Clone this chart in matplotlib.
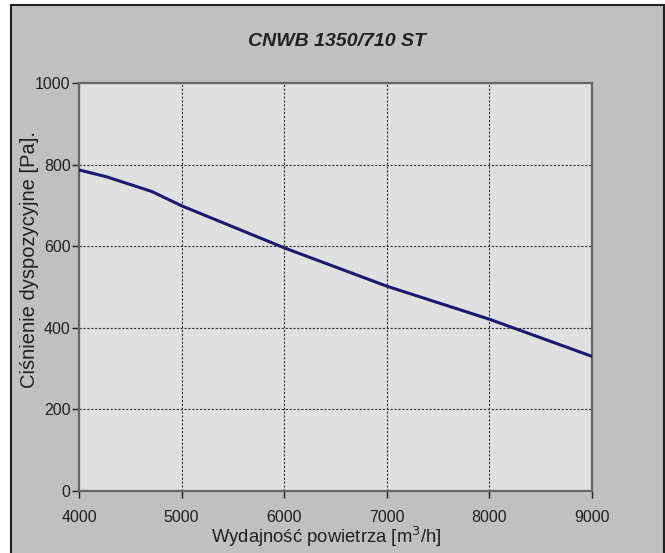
import numpy as np
import matplotlib.pyplot as plt
from matplotlib.patches import Rectangle

# Characteristic of CNWB 1350/710 ST
flow = [4000, 4270, 4710, 5000, 6000, 7000, 8000, 9000]
pressure = [787, 770, 734, 699, 596, 502, 421, 330]

x_ticks = [4000, 5000, 6000, 7000, 8000, 9000]
y_ticks = [0, 200, 400, 600, 800, 1000]

plt.rcParams['font.family'] = ['Liberation Sans', 'DejaVu Sans']

fig = plt.figure(figsize=(6.65, 5.53), dpi=100, facecolor='white')
# gray panel with dark border
fig.patches.append(Rectangle((11 / 665, -0.01), 653 / 665, 1 - 5 / 553 + 0.01,
                             transform=fig.transFigure, facecolor='#c0c0c0',
                             edgecolor='#202020', linewidth=1.5, zorder=-1))

ax = fig.add_axes([79 / 665, 1 - 491 / 553, 513 / 665, 408 / 553])
ax.set_zorder(1)
ax.set_facecolor('#e0e0e0')
ax.plot(flow, pressure, color='#1c1870', linewidth=2.2, zorder=3)

ax.set_xlim(4000, 9000)
ax.set_ylim(0, 1000)
ax.set_xticks(x_ticks)
ax.set_yticks(y_ticks)
ax.tick_params(labelsize=11.5, colors='#202020', length=5, width=1, direction='out')
ax.tick_params(axis='x', pad=9)
ax.tick_params(axis='y', pad=1)
ax.grid(True, color='#303030', linestyle=(0, (2, 1.5)), linewidth=0.8)
for s in ax.spines.values():
    s.set_color('#666666')
    s.set_linewidth(1.6)

fig.text(337 / 665, 1 - 41 / 553, 'CNWB 1350/710 ST', ha='center', va='center',
         fontsize=14, fontweight='bold', fontstyle='italic', color='#202020')
fig.text(326 / 665, 1 - 537 / 553, 'Wydajność powietrza [m$^3$/h]', ha='center',
         va='center', fontsize=13.3, color='#202020')
fig.text(30 / 665, 1 - 259 / 553, 'Ciśnienie dyspozycyjne [Pa].', ha='center',
         va='center', rotation=90, fontsize=14.5, color='#202020')

fig.savefig('out.png', dpi=100, facecolor=fig.get_facecolor())
